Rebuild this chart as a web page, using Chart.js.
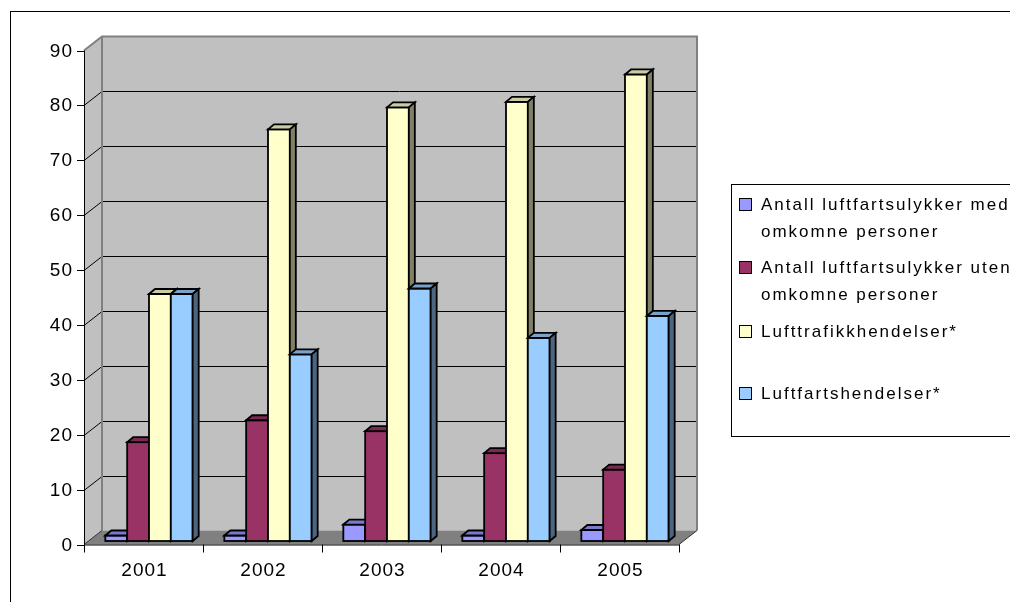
<!DOCTYPE html>
<html>
<head>
<meta charset="utf-8">
<script src="https://cdn.jsdelivr.net/npm/chart.js@4/dist/chart.umd.min.js"></script>
<style>
  html, body { margin: 0; padding: 0; background: #ffffff; }
  #wrap { width: 1010px; height: 602px; position: relative; }
  canvas { display: block; }
</style>
</head>
<body>
<div id="wrap"><canvas id="chart" width="1010" height="602"></canvas></div>
<script>
// Aviation accidents and incidents per year
const categories = ['2001', '2002', '2003', '2004', '2005'];
const seriesNames = [
  ['Antall luftfartsulykker med', 'omkomne personer'],
  ['Antall luftfartsulykker uten', 'omkomne personer'],
  ['Lufttrafikkhendelser*'],
  ['Luftfartshendelser*']
];
const accidentsWithFatalities = [1, 1, 3, 1, 2];
const accidentsWithoutFatalities = [18, 22, 20, 16, 13];
const airTrafficIncidents = [45, 75, 79, 80, 85];
const aviationIncidents = [45, 34, 46, 37, 41];
const yTicks = [0, 10, 20, 30, 40, 50, 60, 70, 80, 90];

// front, top and side shades for each series
const palette = [
  { front: '#9999FF', top: '#7A7ACC', side: '#4D4D80' },
  { front: '#993366', top: '#7A2952', side: '#4D1A33' },
  { front: '#FFFFCC', top: '#CCCCA3', side: '#808066' },
  { front: '#99CCFF', top: '#7AA3CC', side: '#4D6680' }
];

// depth of the floor/walls and of the columns
const WALL_DX = 18, WALL_DY = -14;
const BAR_SHIFT_X = 5.5, BAR_SHIFT_Y = -3.5;
const BAR_DX = 6, BAR_DY = -5;
const FONT = '"Liberation Sans", Arial, sans-serif';

const scene3d = {
  id: 'scene3d',
  beforeDatasetsDraw(chart) {
    const { ctx, chartArea: a } = chart;
    const y = chart.scales.y, x = chart.scales.x;
    const L = a.left, R = a.right, T = a.top, B = a.bottom;
    const bL = L + WALL_DX, bR = R + WALL_DX, bT = T + WALL_DY, bB = B + WALL_DY;

    ctx.save();
    // outer frame
    ctx.strokeStyle = '#000';
    ctx.lineWidth = 1;
    ctx.strokeRect(10.5, 11.5, 1010, 600);

    // back wall and side wall
    ctx.fillStyle = '#C0C0C0';
    ctx.fillRect(bL, bT, bR - bL, bB - bT);
    ctx.beginPath();
    ctx.moveTo(L, T); ctx.lineTo(bL, bT); ctx.lineTo(bL, bB); ctx.lineTo(L, B); ctx.closePath();
    ctx.fill();

    // gridlines on the walls
    ctx.strokeStyle = '#000';
    ctx.lineWidth = 1;
    yTicks.forEach(v => {
      if (v === yTicks[0] || v === yTicks[yTicks.length - 1]) return;
      const py = Math.round(y.getPixelForValue(v)) + 0.5;
      ctx.beginPath();
      ctx.moveTo(bL, py + WALL_DY); ctx.lineTo(bR, py + WALL_DY);
      ctx.moveTo(L, py); ctx.lineTo(bL, py + WALL_DY);
      ctx.stroke();
    });

    // floor
    ctx.fillStyle = '#808080';
    ctx.beginPath();
    ctx.moveTo(L, B); ctx.lineTo(R, B); ctx.lineTo(bR, bB); ctx.lineTo(bL, bB); ctx.closePath();
    ctx.fill();

    // wall edges
    ctx.strokeStyle = '#808080';
    ctx.lineWidth = 2;
    ctx.beginPath();
    ctx.moveTo(bL, bB); ctx.lineTo(bL, bT);
    ctx.moveTo(L, T); ctx.lineTo(bL, bT); ctx.lineTo(bR, bT); ctx.lineTo(bR, bB);
    ctx.stroke();
    ctx.strokeStyle = '#333';
    ctx.lineWidth = 1;
    ctx.beginPath();
    ctx.moveTo(R, B); ctx.lineTo(bR, bB);
    ctx.moveTo(L, B); ctx.lineTo(bL, bB);
    ctx.stroke();

    // value axis
    ctx.strokeStyle = '#000';
    ctx.lineWidth = 1;
    ctx.beginPath();
    ctx.moveTo(L + 0.5, T); ctx.lineTo(L + 0.5, B);
    ctx.stroke();
    ctx.fillStyle = '#000';
    ctx.font = '19px ' + FONT;
    ctx.letterSpacing = '1px';
    ctx.textAlign = 'right';
    ctx.textBaseline = 'middle';
    yTicks.forEach(v => {
      const py = Math.round(y.getPixelForValue(v)) + 0.5;
      ctx.beginPath();
      ctx.moveTo(L - 7, py); ctx.lineTo(L + 0.5, py);
      ctx.stroke();
      ctx.fillText(String(v), L - 11, py);
    });

    // category axis
    ctx.beginPath();
    ctx.moveTo(L, B + 0.5); ctx.lineTo(R, B + 0.5);
    ctx.stroke();
    const step = (R - L) / categories.length;
    for (let i = 0; i <= categories.length; i++) {
      const px = Math.round(L + i * step) + 0.5;
      ctx.beginPath();
      ctx.moveTo(px, B); ctx.lineTo(px, B + 8);
      ctx.stroke();
    }
    ctx.textAlign = 'center';
    categories.forEach((c, i) => {
      ctx.fillText(c, x.getPixelForValue(i) + 1, B + 26);
    });
    ctx.restore();
  },
  // columns are painted left to right inside each year so that every
  // column hides the side face of its left neighbour
  beforeDatasetDraw() {
    return false;
  },
  afterDatasetsDraw(chart) {
    const { ctx } = chart;
    ctx.save();
    // columns stand a little behind the front plane
    ctx.translate(BAR_SHIFT_X, BAR_SHIFT_Y);
    chart.data.datasets.forEach((ds, i) => {
      const meta = chart.getDatasetMeta(i);
      const col = palette[i];
      meta.controller.draw();
      ctx.lineWidth = 1.8;
      ctx.strokeStyle = '#000';
      ctx.lineJoin = 'miter';
      meta.data.forEach(bar => {
        const p = bar.getProps(['x', 'y', 'base', 'width'], true);
        const l = p.x - p.width / 2, r = p.x + p.width / 2, t = p.y, b = p.base;
        // front outline
        ctx.strokeRect(l, t, r - l, b - t);
        // top face
        ctx.beginPath();
        ctx.moveTo(l, t); ctx.lineTo(l + BAR_DX, t + BAR_DY);
        ctx.lineTo(r + BAR_DX, t + BAR_DY); ctx.lineTo(r, t); ctx.closePath();
        ctx.fillStyle = col.top; ctx.fill(); ctx.stroke();
        // side face
        ctx.beginPath();
        ctx.moveTo(r, t); ctx.lineTo(r + BAR_DX, t + BAR_DY);
        ctx.lineTo(r + BAR_DX, b + BAR_DY); ctx.lineTo(r, b); ctx.closePath();
        ctx.fillStyle = col.side; ctx.fill(); ctx.stroke();
      });
    });
    ctx.restore();

    // legend
    ctx.save();
    ctx.strokeStyle = '#000';
    ctx.lineWidth = 1;
    ctx.strokeRect(731.5, 184.5, 300, 252);
    ctx.font = '17px ' + FONT;
    ctx.letterSpacing = '2px';
    ctx.textAlign = 'left';
    ctx.textBaseline = 'alphabetic';
    const baselines = [209.5, 272.5, 336.5, 398.5];
    seriesNames.forEach((lines, i) => {
      const by = baselines[i];
      ctx.fillStyle = palette[i].front;
      ctx.fillRect(739.5, by - 11, 12, 12);
      ctx.strokeStyle = '#000';
      ctx.strokeRect(739.5, by - 11, 12, 12);
      ctx.fillStyle = '#000';
      lines.forEach((ln, j) => ctx.fillText(ln, 761, by + j * 27));
    });
    ctx.restore();
  }
};

const seriesValues = [accidentsWithFatalities, accidentsWithoutFatalities, airTrafficIncidents, aviationIncidents];

new Chart(document.getElementById('chart'), {
  type: 'bar',
  data: {
    labels: categories,
    datasets: seriesValues.map((vals, i) => ({
      label: seriesNames[i].join(' '),
      data: vals,
      backgroundColor: palette[i].front,
      borderWidth: 0,
      categoryPercentage: 0.734,
      barPercentage: 1.0,
      clip: false
    }))
  },
  options: {
    responsive: false,
    devicePixelRatio: 1,
    animation: false,
    events: [],
    layout: { padding: { left: 84, right: 331, top: 50.5, bottom: 57.5 } },
    scales: {
      x: { display: false, offset: true },
      y: { display: false, min: 0, max: 90 }
    },
    plugins: {
      legend: { display: false },
      tooltip: { enabled: false }
    }
  },
  plugins: [scene3d]
});
</script>
</body>
</html>
